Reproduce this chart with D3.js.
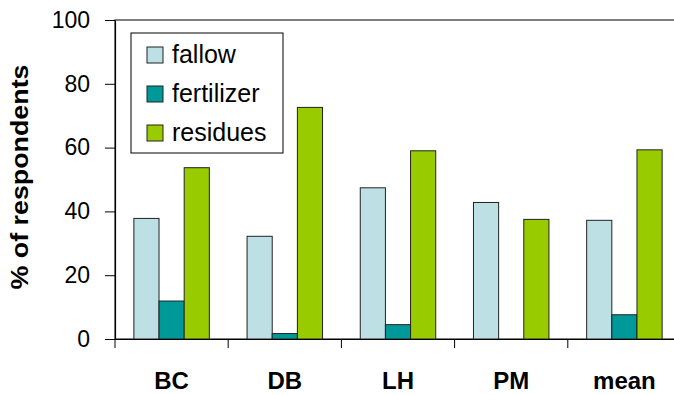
<!DOCTYPE html>
<html>
<head>
<meta charset="utf-8">
<script src="https://cdn.jsdelivr.net/npm/d3@7"></script>
<style>
  html, body { margin: 0; padding: 0; background: #fff; }
  svg { display: block; font-family: "Liberation Sans", Arial, sans-serif; }
</style>
</head>
<body>
<svg id="chart" width="674" height="395"></svg>
<script>
// Survey sites and share of respondents per soil-fertility practice
const sites = ["BC", "DB", "LH", "PM", "mean"];
const practices = ["fallow", "fertilizer", "residues"];
const fallow = [37.8, 32.2, 47.4, 42.8, 37.2];
const fertilizer = [11.9, 1.7, 4.5, 0, 7.6];
const residues = [53.7, 72.6, 59.0, 37.5, 59.3];
const yTicks = [0, 20, 40, 60, 80, 100];

const seriesValues = { fallow, fertilizer, residues };
const colors = { fallow: "#bde0e4", fertilizer: "#009999", residues: "#99cc00" };

const svg = d3.select("#chart");
const plotLeft = 115, plotRight = 681, plotTop = 20, plotBottom = 339;

const x = d3.scaleBand().domain(sites).range([plotLeft, plotRight]).paddingInner(0).paddingOuter(0);
// gap between groups is 150% of a bar width
const xInner = d3.scaleBand().domain(practices)
  .range([x.bandwidth() * 0.75 / 4.5, x.bandwidth() - x.bandwidth() * 0.75 / 4.5]);
const y = d3.scaleLinear().domain([0, 100]).range([plotBottom, plotTop]);

// plot area frame
svg.append("rect")
  .attr("x", plotLeft).attr("y", plotTop)
  .attr("width", plotRight - plotLeft).attr("height", plotBottom - plotTop)
  .attr("fill", "none").attr("stroke", "#555").attr("stroke-width", 1.5);

// bars
const groups = svg.append("g").selectAll("g").data(sites).join("g")
  .attr("transform", d => `translate(${x(d)},0)`);
groups.selectAll("rect")
  .data((site, i) => practices.map(p => ({ p, v: seriesValues[p][i] })))
  .join("rect")
  .attr("x", d => xInner(d.p))
  .attr("width", xInner.bandwidth())
  .attr("y", d => y(d.v))
  .attr("height", d => y(0) - y(d.v))
  .attr("fill", d => colors[d.p])
  .attr("stroke", d => d.v > 0 ? "#222" : "none")
  .attr("stroke-width", 1);

// y axis
const yAxis = svg.append("g")
  .attr("transform", `translate(${plotLeft},0)`)
  .call(d3.axisLeft(y).tickValues(yTicks).tickSize(10).tickPadding(15).tickSizeOuter(0));
yAxis.select(".domain").attr("stroke", "#000").attr("stroke-width", 1.2);
yAxis.selectAll(".tick line").attr("stroke", "#000");
yAxis.selectAll(".tick text")
  .attr("font-size", 23).attr("fill", "#000")
  .attr("font-family", '"Liberation Sans", Arial, sans-serif');

// x axis: baseline, boundary ticks and bold category labels
const xAxis = svg.append("g")
  .attr("transform", `translate(0,${plotBottom})`)
  .call(d3.axisBottom(x).tickSize(0).tickPadding(33).tickSizeOuter(0));
xAxis.select(".domain").attr("stroke", "#000").attr("stroke-width", 1.2);
xAxis.selectAll(".tick text")
  .attr("font-size", 24).attr("font-weight", "bold").attr("fill", "#000")
  .attr("font-family", '"Liberation Sans", Arial, sans-serif');
xAxis.selectAll("line.edge")
  .data(sites)
  .join("line")
  .attr("class", "edge")
  .attr("x1", d => x(d)).attr("x2", d => x(d))
  .attr("y1", 0).attr("y2", 9)
  .attr("stroke", "#000");

// y axis title
svg.append("text")
  .attr("transform", "translate(28,177) rotate(-90)")
  .attr("text-anchor", "middle")
  .attr("font-size", 23).attr("font-weight", "bold")
  .attr("textLength", 225).attr("lengthAdjust", "spacingAndGlyphs")
  .text("% of respondents");

// legend
const legend = svg.append("g");
legend.append("rect")
  .attr("x", 131).attr("y", 33).attr("width", 152).attr("height", 120)
  .attr("fill", "#fff").attr("stroke", "#000").attr("stroke-width", 1);
const items = legend.selectAll("g.item").data(practices).join("g")
  .attr("class", "item")
  .attr("transform", (d, i) => `translate(147,${55 + i * 39})`);
items.append("rect")
  .attr("x", 0).attr("y", -8).attr("width", 16).attr("height", 16)
  .attr("fill", d => colors[d]).attr("stroke", "#222");
items.append("text")
  .attr("x", 25).attr("y", 8)
  .attr("font-size", 25)
  .text(d => d);
</script>
</body>
</html>
